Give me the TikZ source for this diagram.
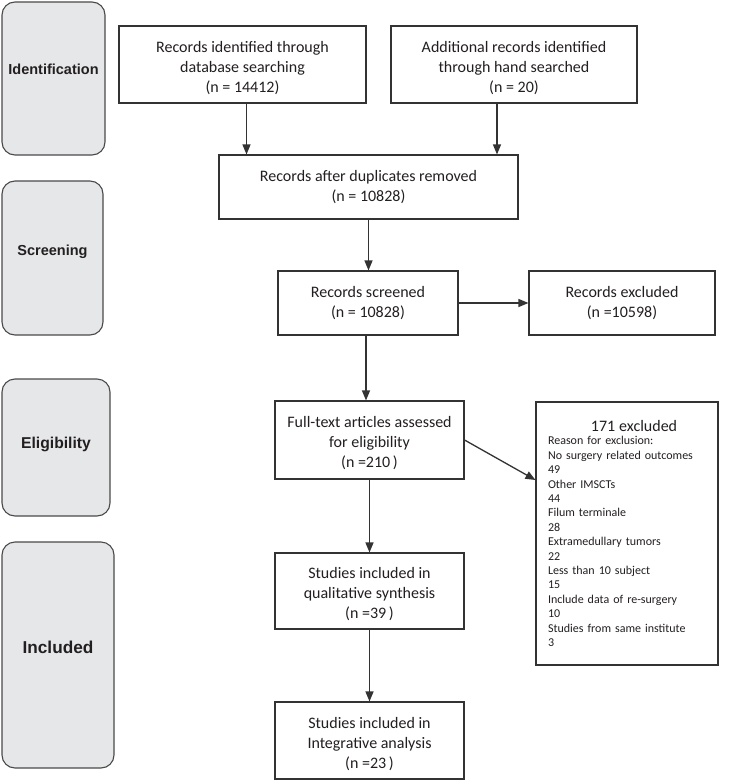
\documentclass[tikz,border=0pt]{standalone}
\usepackage{fontspec}
\setmainfont{Carlito}
\newfontfamily\stagefont{Liberation Sans}
\usetikzlibrary{arrows.meta,calc}
\definecolor{lineg}{HTML}{333333}
\definecolor{stagefill}{HTML}{E6E7E9}
\definecolor{stageline}{HTML}{4A4A4A}
\definecolor{txt}{HTML}{231F20}
\newcommand{\dstrut}{\rule{0pt}{18pt}}
\newcommand{\stagelbl}[2]{\raisebox{#1}[0pt][0pt]{#2}}
\begin{document}
\begin{tikzpicture}[x=1pt,y=-1pt,
  flowbox/.style={draw=lineg,line width=1.1pt,fill=white,inner sep=0pt,align=center,
    text=txt,font=\fontsize{16}{20}\selectfont},
  stagebox/.style={draw=stageline,line width=1.1pt,fill=stagefill,rounded corners=13pt,
    inner sep=0pt,text=txt},
  flowarrow/.style={draw=lineg,line width=1.3pt,-{Triangle[length=10pt,width=8pt]}}]
\useasboundingbox (0,0) rectangle (734,781);
% stage boxes
\node[stagebox,minimum width=103pt,minimum height=153pt,font=\stagefont\bfseries\fontsize{14.5}{17}\selectfont] (s1) at (53.5,78.5) {\stagelbl{4.3pt}{Identification}};
\node[stagebox,minimum width=101pt,minimum height=154pt,font=\stagefont\bfseries\fontsize{14.5}{17}\selectfont] (s2) at (52.5,258) {\stagelbl{2.8pt}{Screening}};
\node[stagebox,minimum width=108pt,minimum height=137pt,font=\stagefont\bfseries\fontsize{15.7}{18}\selectfont] (s3) at (56,447.5) {\stagelbl{-1.1pt}{Eligibility}};
\node[stagebox,minimum width=112pt,minimum height=226pt,font=\stagefont\bfseries\fontsize{17.2}{20}\selectfont] (s4) at (58,655) {\stagelbl{1.8pt}{Included}};
% flow boxes
\node[flowbox,minimum width=247pt,minimum height=77pt] (b1) at (242.5,64.5) {\dstrut Records identified through\\database searching\\(n = 14412)};
\node[flowbox,minimum width=246pt,minimum height=77pt] (b2) at (514,64.5) {\dstrut Additional records identified\\through hand searched\\(n = 20)};
\node[flowbox,minimum width=299pt,minimum height=64pt] (b3) at (368.5,187) {Records after duplicates removed\\(n = 10828)};
\node[flowbox,minimum width=180pt,minimum height=64pt] (b4) at (368,303) {Records screened\\(n = 10828)};
\node[flowbox,minimum width=186pt,minimum height=64pt] (b5) at (622,303) {Records excluded\\(n =10598)};
\node[flowbox,minimum width=189pt,minimum height=78pt] (b6) at (369.5,440) {\dstrut Full-text articles assessed\\for eligibility\\(n =210\,)};
\node[flowbox,minimum width=182pt,minimum height=263pt,text width=158pt,align=left,
  font=\fontsize{12}{14.4}\selectfont] (b7) at (627,533.5)
  {\makebox[\linewidth][c]{\hspace{14pt}\fontsize{16}{19}\selectfont 171 excluded}\\[-1pt]
   Reason for exclusion:\\
   No surgery related outcomes\\
   49\\
   Other IMSCTs\\
   44\\
   Filum terminale\\
   28\\
   Extramedullary tumors\\
   22\\
   Less than 10 subject\\
   15\\
   Include data of re-surgery\\
   10\\
   Studies from same institute\\
   3};
\node[flowbox,minimum width=189pt,minimum height=76pt] (b8) at (369.5,591) {\dstrut Studies included in\\qualitative synthesis\\(n =39\,)};
\node[flowbox,minimum width=189pt,minimum height=77pt] (b9) at (369.5,740.5) {\dstrut Studies included in\\Integrative analysis\\(n =23\,)};
% connectors
\draw[flowarrow] ([xshift=4pt]b1.south) -- ([xshift=4pt]b1.south |- b3.north);
\draw[flowarrow] ([xshift=-17pt]b2.south) -- ([xshift=-17pt]b2.south |- b3.north);
\draw[flowarrow] (b3.south) -- (b3.south |- b4.north);
\draw[flowarrow] (b4.east) -- (b5.west);
\draw[flowarrow] ([xshift=-2pt]b4.south) -- ([xshift=-2pt]b4.south |- b6.north);
\draw[flowarrow] (b6.east) -- ([yshift=53.5pt]b7.west);
\draw[flowarrow] (b6.south) -- (b8.north);
\draw[flowarrow] (b8.south) -- (b9.north);
\end{tikzpicture}
\end{document}
